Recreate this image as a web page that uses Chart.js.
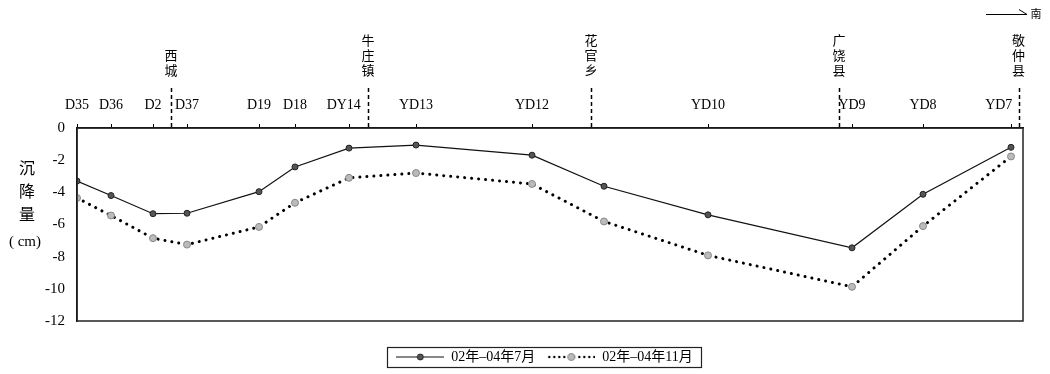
<!DOCTYPE html>
<html>
<head>
<meta charset="utf-8">
<script src="https://cdn.jsdelivr.net/npm/chart.js@4/dist/chart.umd.min.js"></script>
<style>
html, body { margin: 0; padding: 0; background: #fff; }
</style>
</head>
<body>
<canvas id="settleChart" width="1050" height="374"></canvas>
<script>
// stations along the profile, north to south
const stations = ['D35', 'D36', 'D2', 'D37', 'D19', 'D18', 'DY14', 'YD13', 'YD12', '', 'YD10', 'YD9', 'YD8', 'YD7'];
const distance = [0, 34, 76, 110, 182, 218, 272, 339, 455, 527, 631, 775, 846, 934];
const july = [-3.3, -4.2, -5.33, -5.3, -3.96, -2.42, -1.25, -1.06, -1.69, -3.62, -5.4, -7.45, -4.12, -1.2];
const nov = [-4.35, -5.44, -6.85, -7.25, -6.15, -4.65, -3.1, -2.8, -3.48, -5.81, -7.92, -9.875, -6.1, -1.77];
const seriesNames = ['02年–04年7月', '02年–04年11月'];
const towns = ['西城', '牛庄镇', '花官乡', '广饶县', '敬仲县'];
const townDistance = [94, 291, 514, 762, 941.5];
const yTicks = [0, -2, -4, -6, -8, -10, -12];

const tickPos = distance.filter((d, i) => stations[i] !== '');
const tickNames = stations.filter(s => s !== '');

const serif = '"Liberation Serif", "Noto Sans CJK SC", serif';
Chart.defaults.font.family = serif;
Chart.defaults.color = '#000';

function legendIcon(i) {
    const c = document.createElement('canvas');
    c.width = 48;
    c.height = 10;
    const g = c.getContext('2d');
    if (i === 0) {
        g.strokeStyle = '#111';
        g.lineWidth = 1;
        g.beginPath();
        g.moveTo(0, 5);
        g.lineTo(48, 5);
        g.stroke();
        g.beginPath();
        g.arc(24, 5, 3, 0, Math.PI * 2);
        g.fillStyle = '#555';
        g.fill();
        g.strokeStyle = '#222';
        g.stroke();
    } else {
        g.fillStyle = '#000';
        for (let x = 2; x < 48; x += 5) {
            g.beginPath();
            g.arc(x, 5, 1.2, 0, Math.PI * 2);
            g.fill();
        }
        g.beginPath();
        g.arc(24, 5, 3.5, 0, Math.PI * 2);
        g.fillStyle = '#bbb';
        g.fill();
        g.strokeStyle = '#888';
        g.stroke();
    }
    return c;
}

const extras = {
    id: 'extras',
    afterLayout(chart) {
        // legend sits a bit right of centre in the original
        const lg = chart.legend;
        lg.left += 33;
        lg.right += 33;
        lg.legendHitBoxes.forEach(h => { h.left += 33; });
    },
    afterDraw(chart) {
        const ctx = chart.ctx;
        const a = chart.chartArea;
        const xs = chart.scales.x;
        ctx.save();

        // frame
        ctx.strokeStyle = '#222';
        ctx.lineWidth = 1.5;
        ctx.strokeRect(a.left, a.top, a.right - a.left, a.bottom - a.top);

        // town boundaries
        ctx.lineWidth = 1.5;
        ctx.setLineDash([4, 3]);
        ctx.strokeStyle = '#000';
        townDistance.forEach(d => {
            const px = Math.round(xs.getPixelForValue(d)) + 0.5;
            ctx.beginPath();
            ctx.moveTo(px, 88);
            ctx.lineTo(px, a.top);
            ctx.stroke();
        });
        ctx.setLineDash([]);

        ctx.fillStyle = '#000';
        ctx.textAlign = 'center';
        ctx.textBaseline = 'middle';
        ctx.font = '13px "Noto Sans CJK SC"';
        towns.forEach((t, k) => {
            const px = xs.getPixelForValue(townDistance[k]);
            const chars = t.split('');
            chars.forEach((ch, j) => {
                ctx.fillText(ch, px, 70 - (chars.length - 1 - j) * 15);
            });
        });

        // y axis title
        ctx.font = '16px "Noto Sans CJK SC"';
        ['沉', '降', '量'].forEach((ch, j) => ctx.fillText(ch, 27, 168 + j * 23));
        ctx.font = '15px ' + serif;
        ctx.fillText('( cm)', 25, 242);

        // direction arrow
        ctx.lineWidth = 1;
        ctx.beginPath();
        ctx.moveTo(986, 14.5);
        ctx.lineTo(1027, 14.5);
        ctx.lineTo(1019, 9.5);
        ctx.stroke();
        ctx.font = '11px "Noto Sans CJK SC"';
        ctx.fillText('南', 1036, 14);

        // legend frame
        const hb = chart.legend.legendHitBoxes;
        if (hb && hb.length) {
            const l = hb[0].left - 9;
            const r = hb[hb.length - 1].left + hb[hb.length - 1].width + 9;
            const t = hb[0].top - 3;
            const h = hb[0].height + 6;
            ctx.lineWidth = 1.2;
            ctx.strokeStyle = '#222';
            ctx.strokeRect(Math.round(l) + 0.5, Math.round(t) + 0.5, Math.round(r - l), Math.round(h));
        }
        ctx.restore();
    }
};

// a few labels sit off-centre of their tick in the original
const labelShift = { 'DY14': '   ', 'YD7': '       ' };

new Chart(document.getElementById('settleChart').getContext('2d'), {
    type: 'line',
    data: {
        datasets: [{
            label: seriesNames[0],
            data: distance.map((x, i) => ({ x: x, y: july[i] })),
            borderColor: '#111',
            borderWidth: 1.2,
            pointRadius: 3,
            pointBackgroundColor: '#555',
            pointBorderColor: '#222',
            pointBorderWidth: 1,
            tension: 0
        }, {
            label: seriesNames[1],
            data: distance.map((x, i) => ({ x: x, y: nov[i] })),
            borderColor: '#000',
            borderWidth: 3,
            borderDash: [0.01, 7],
            borderCapStyle: 'round',
            pointRadius: 3.5,
            pointBackgroundColor: '#bbb',
            pointBorderColor: '#888',
            pointBorderWidth: 1,
            tension: 0
        }]
    },
    options: {
        responsive: false,
        devicePixelRatio: 1,
        animation: false,
        layout: { padding: { left: 0, right: 27, top: 0, bottom: 0 } },
        scales: {
            x: {
                type: 'linear',
                position: 'top',
                min: 0,
                max: 946,
                afterBuildTicks: s => { s.ticks = tickPos.map(v => ({ value: v })); },
                afterFit: s => { s.height = 128; },
                ticks: {
                    autoSkip: false,
                    maxRotation: 0,
                    padding: 10,
                    font: { size: 14 },
                    color: '#000',
                    callback: (v, i) => tickNames[i] + (labelShift[tickNames[i]] || '')
                },
                grid: { drawOnChartArea: false, drawTicks: true, tickLength: 4, color: '#000' },
                border: { color: '#000', width: 1.5 }
            },
            // empty strip between plot and legend
            gap: {
                type: 'linear',
                position: 'bottom',
                afterFit: s => { s.height = 17; },
                ticks: { display: false },
                grid: { display: false },
                border: { display: false }
            },
            y: {
                min: -12,
                max: 0,
                afterBuildTicks: s => { s.ticks = yTicks.map(v => ({ value: v })); },
                afterFit: s => { s.width = 77; },
                ticks: { padding: 12, font: { size: 15 }, color: '#000' },
                grid: { display: false, drawTicks: false },
                border: { color: '#000', width: 1.5 }
            }
        },
        plugins: {
            tooltip: { enabled: false },
            legend: {
                position: 'bottom',
                labels: {
                    usePointStyle: true,
                    pointStyleWidth: 48,
                    padding: 12,
                    font: { size: 14 },
                    color: '#000',
                    generateLabels: () => seriesNames.map((n, i) => ({
                        text: n,
                        pointStyle: legendIcon(i),
                        fillStyle: '#000',
                        strokeStyle: '#000',
                        lineWidth: 0,
                        datasetIndex: i
                    }))
                }
            }
        }
    },
    plugins: [extras]
});
</script>
</body>
</html>
